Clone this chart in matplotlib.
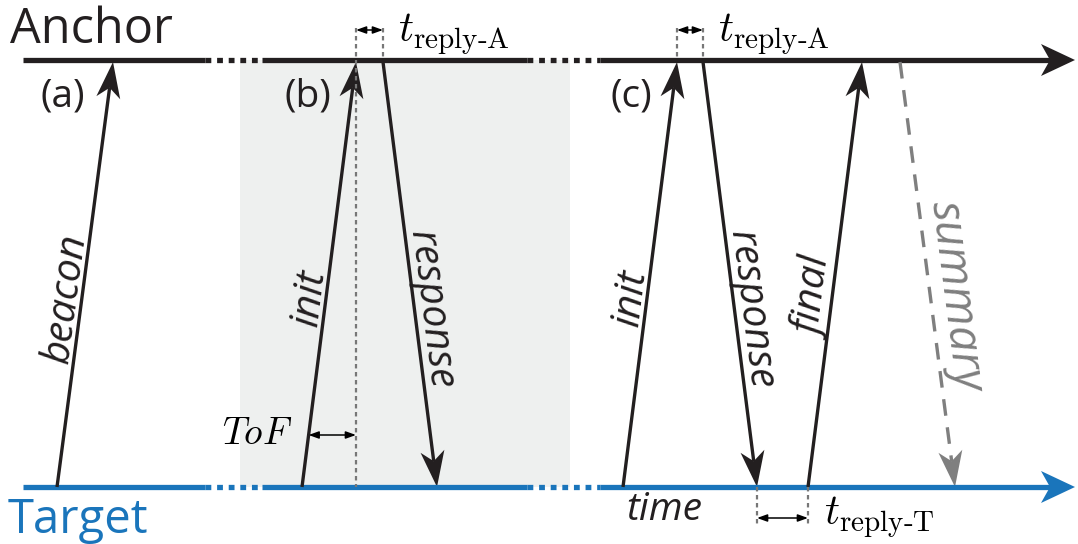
import numpy as np
import matplotlib.pyplot as plt
from matplotlib.patches import Polygon, Rectangle

plt.rcParams['mathtext.fontset'] = 'cm'

# timeline geometry (pixels)
anchor_y = 60
target_y = 487
line_start = 23
line_end = 1075
gaps = [(205, 262), (527, 600)]

# messages: label, x at start, x at end, direction
msg_labels = ["beacon", "init", "response", "init", "response", "final", "summary"]
msg_x0 = [57, 302, 383, 623, 703, 808, 900]
msg_x1 = [113, 356, 437, 677, 757, 862, 955]
msg_up = [True, True, False, True, False, True, False]
msg_side = [-1, -1, 1, -1, 1, -1, 1]
msg_color = ["#231f20"] * 6 + ["#7f7f7f"]

panel_labels = ["(a)", "(b)", "(c)"]
panel_x = [40, 285, 610]

shade_x = (240, 570)

BLACK = "#231f20"
BLUE = "#1a75bb"
GRAY = "#777777"


def arrow(ax, x0, y0, x1, y1, color, lw=2.4, ls='-', length=36, width=24, notch=10):
    d = np.array([x1 - x0, y1 - y0], float)
    d /= np.hypot(*d)
    n = np.array([-d[1], d[0]])
    tip = np.array([x1, y1], float)
    back = tip - d * length
    inner = tip - d * (length - notch)
    ax.plot([x0, inner[0]], [y0, inner[1]], color=color, lw=lw, ls=ls,
            solid_capstyle='butt', dash_capstyle='butt')
    ax.add_patch(Polygon([tip, back + n * width / 2, inner, back - n * width / 2],
                         closed=True, color=color, lw=0))


def timeline(ax, y, color):
    xs = [line_start]
    for a, b in gaps:
        xs += [a, b]
    xs.append(line_end)
    for i in range(0, len(xs) - 2, 2):
        ax.plot([xs[i], xs[i + 1]], [y, y], color=color, lw=3.8, solid_capstyle='butt')
    for a, b in gaps:
        ax.plot([a, b], [y, y], color=color, lw=3.8, ls=(0, (1.1, 1.1)))
    arrow(ax, xs[-2], y, line_end, y, color, lw=3.8, length=34, width=32, notch=9)


def dim(ax, xa, xb, y):
    ax.annotate('', xy=(xa, y), xytext=(xb, y),
                arrowprops=dict(arrowstyle='<|-|>,head_length=0.5,head_width=0.18',
                                color='black', lw=1.1, shrinkA=0, shrinkB=0,
                                mutation_scale=12))


def vdot(ax, x, ya, yb):
    ax.plot([x, x], [ya, yb], color=GRAY, lw=1.6, ls=(0, (2, 1.6)))


fig = plt.figure(figsize=(10.78, 5.44), dpi=100)
ax = fig.add_axes([0, 0, 1, 1])
ax.set_xlim(0, 1078)
ax.set_ylim(544, 0)
ax.axis('off')

ax.add_patch(Rectangle((shade_x[0], anchor_y), shade_x[1] - shade_x[0], target_y - anchor_y,
                       color="#eef0ef", lw=0, zorder=0))

timeline(ax, anchor_y, BLACK)
timeline(ax, target_y, BLUE)

ax.text(10, 30, "Anchor", fontsize=35, family="Open Sans", color=BLACK, va='center')
ax.text(8, 520, "Target", fontsize=34, family="Open Sans", color=BLUE, va='center')

for lab, px in zip(panel_labels, panel_x):
    ax.text(px, 96, lab, fontsize=28, family="Open Sans", color=BLACK, va='center')

# messages with rotated labels alongside
for lab, x0, x1, up, side, c in zip(msg_labels, msg_x0, msg_x1, msg_up, msg_side, msg_color):
    if up:
        arrow(ax, x0, target_y, x1, anchor_y + 2, c)
        ang = np.degrees(np.arctan2(target_y - anchor_y, x1 - x0))
    else:
        ls = (0, (5, 3.5)) if lab == "summary" else '-'
        arrow(ax, x0, anchor_y + 2, x1, target_y, c, ls=ls)
        ang = -np.degrees(np.arctan2(target_y - anchor_y, x1 - x0))
    ymid = {"response": 310, "summary": 296}.get(lab, 298)
    t = (target_y - ymid) / (target_y - anchor_y) if up else (ymid - anchor_y) / (target_y - anchor_y)
    xl = x0 + (x1 - x0) * t
    off = 16 if lab != "summary" else 25
    size = 33 if lab == "summary" else 29
    ax.text(xl + side * off, ymid, lab, fontsize=size, family="Open Sans", style='italic',
            color=c, rotation=ang, rotation_mode='anchor', ha='center', va='center')

# reply times at the anchor
for xa, xb in [(356, 383), (677, 703)]:
    vdot(ax, xa, 28, anchor_y)
    vdot(ax, xb, 28, anchor_y)
    dim(ax, xa, xb, 30)
    ax.text(xb + 15, 34, r'$t_{\mathrm{reply\text{-}A}}$', fontsize=30, va='center')

# time of flight
vdot(ax, 356, anchor_y, target_y)
tof_x = msg_x0[1] + (msg_x1[1] - msg_x0[1]) * (target_y - 435) / (target_y - anchor_y)
dim(ax, tof_x, 356, 435)
ax.text(222, 434, r'$ToF$', fontsize=27, va='center')

# reply time at the target
vdot(ax, msg_x1[4], target_y, 524)
vdot(ax, msg_x0[5], target_y, 524)
dim(ax, msg_x1[4], msg_x0[5], 518)
ax.text(824, 517, r'$t_{\mathrm{reply\text{-}T}}$', fontsize=30, va='center')

ax.text(626, 510, "time", fontsize=28, family="Open Sans", style='italic', color=BLACK, va='center')

fig.savefig("out.png", dpi=100)
